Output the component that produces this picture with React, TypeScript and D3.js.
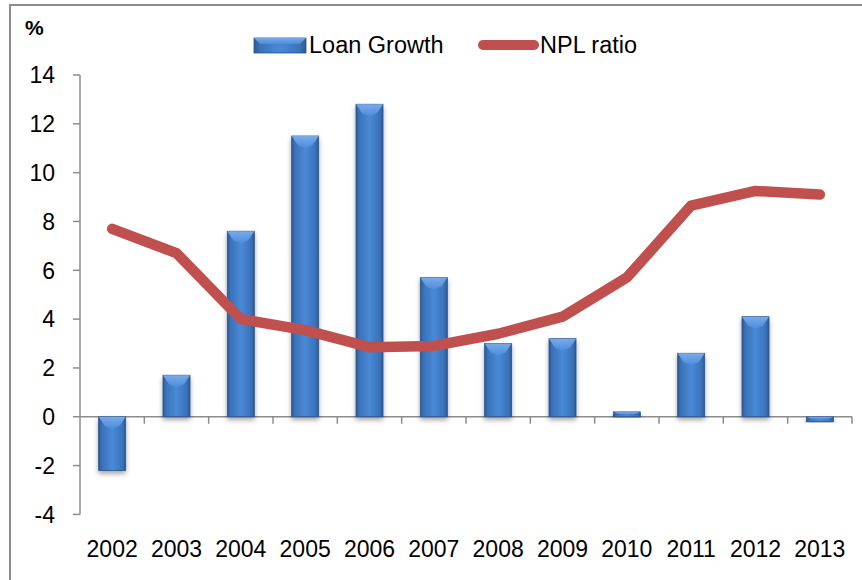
import React from "react";
import * as d3 from "d3";

const years = ["2002","2003","2004","2005","2006","2007","2008","2009","2010","2011","2012","2013"];
const loanGrowth = [-2.2, 1.7, 7.6, 11.5, 12.8, 5.7, 3.0, 3.2, 0.2, 2.6, 4.1, -0.2];
const nplRatio = [7.7, 6.7, 4.0, 3.55, 2.85, 2.9, 3.4, 4.1, 5.7, 8.65, 9.25, 9.1];
const yTicks = [-4, -2, 0, 2, 4, 6, 8, 10, 12, 14];

const W = 862, H = 580;
const left = 80, right = 852, top = 75, bottom = 514.4;
const FONT = "'Liberation Sans', Arial, sans-serif";

export default function App() {
  const x = d3.scaleBand<string>().domain(years).range([left, right]).paddingInner(0.58).paddingOuter(0.29);
  const xc = d3.scaleBand<string>().domain(years).range([left, right]);
  const y = d3.scaleLinear().domain([-4, 14]).range([bottom, top]);
  const line = d3.line<number>().x((_, i) => (xc(years[i]) as number) + xc.bandwidth() / 2).y(d => y(d));
  const bw = x.bandwidth();
  const bev = 9;

  return (
    <svg width={W} height={H} style={{ position: "absolute", left: 0, top: 0, background: "#fff" }}>
      <defs>
        <linearGradient id="barG" x1="0" x2="1" y1="0" y2="0">
          <stop offset="0" stopColor="#2c5a94" />
          <stop offset="0.12" stopColor="#3a72ba" />
          <stop offset="0.5" stopColor="#4a89d6" />
          <stop offset="0.88" stopColor="#3a72ba" />
          <stop offset="1" stopColor="#2c5a94" />
        </linearGradient>
        <linearGradient id="bevG" x1="0" x2="0" y1="0" y2="1">
          <stop offset="0" stopColor="#7fb0ee" />
          <stop offset="1" stopColor="#4d8ddb" />
        </linearGradient>
        <filter id="sh" x="-30%" y="-10%" width="160%" height="130%">
          <feGaussianBlur in="SourceAlpha" stdDeviation="2.5" />
          <feOffset dx="0" dy="3" result="b" />
          <feComponentTransfer><feFuncA type="linear" slope="0.35" /></feComponentTransfer>
          <feMerge><feMergeNode /><feMergeNode in="SourceGraphic" /></feMerge>
        </filter>
      </defs>
      {/* frame */}
      <path d={`M10,${H} L10,5 L${W},5`} fill="none" stroke="#8c8c8c" strokeWidth={2} />
      {/* y axis */}
      <line x1={left} x2={left} y1={top} y2={bottom} stroke="#8c8c8c" strokeWidth={1.5} />
      {yTicks.map(t => (
        <g key={t}>
          <line x1={left - 7} x2={left} y1={y(t)} y2={y(t)} stroke="#8c8c8c" strokeWidth={1.5} />
          <text x={55} y={y(t)} dy="0.36em" textAnchor="end" fontFamily={FONT} fontSize={23} fill="#000">{t}</text>
        </g>
      ))}
      {/* x axis */}
      <line x1={left} x2={right} y1={y(0)} y2={y(0)} stroke="#8c8c8c" strokeWidth={1.5} />
      {years.map((yr) => (
        <line key={yr} x1={(xc(yr) as number) + xc.bandwidth()} x2={(xc(yr) as number) + xc.bandwidth()} y1={y(0)} y2={y(0) + 7} stroke="#8c8c8c" strokeWidth={1.5} />
      ))}
      {years.map(yr => (
        <text key={yr} x={(xc(yr) as number) + xc.bandwidth() / 2} y={557} textAnchor="middle" fontFamily={FONT} fontSize={23} fill="#000">{yr}</text>
      ))}
      {/* bars */}
      {loanGrowth.map((v, i) => {
        const bx = x(years[i]) as number;
        const y0 = y(0), y1 = y(v);
        const ty = Math.min(y0, y1), h = Math.abs(y1 - y0);
        const b = Math.min(bev, h / 2);
        const inset = Math.min(6, bw / 4);
        return (
          <g key={i} filter="url(#sh)">
            <rect x={bx} y={ty} width={bw} height={h} fill="url(#barG)" stroke="#2a5389" strokeWidth={0.8} />
            <path d={`M${bx},${ty} L${bx + bw},${ty} L${bx + bw - inset},${ty + b} L${bx + bw / 2},${ty + (h > b + 4 ? b + 3 : b)} L${bx + inset},${ty + b} Z`} fill="url(#bevG)" opacity={0.9} />
          </g>
        );
      })}
      {/* npl line */}
      <path d={line(nplRatio) as string} fill="none" stroke="#c0504d" strokeWidth={10.5} strokeLinecap="round" strokeLinejoin="round" />
      {/* % */}
      <text x={25} y={35} fontFamily={FONT} fontSize={21} fontWeight="bold" fill="#000">%</text>
      {/* legend */}
      <g>
        <rect x={254} y={38} width={52} height={15} fill="url(#barG)" stroke="#2a5389" strokeWidth={0.8} />
        <path d="M254,38 L306,38 L300,44 L260,44 Z" fill="url(#bevG)" opacity={0.9} />
        <text x={309} y={53} fontFamily={FONT} fontSize={23.5} fill="#000">Loan Growth</text>
        <line x1={483} x2={534} y1={45} y2={45} stroke="#c0504d" strokeWidth={10} strokeLinecap="round" />
        <text x={540} y={53} fontFamily={FONT} fontSize={23.5} fill="#000">NPL ratio</text>
      </g>
    </svg>
  );
}
